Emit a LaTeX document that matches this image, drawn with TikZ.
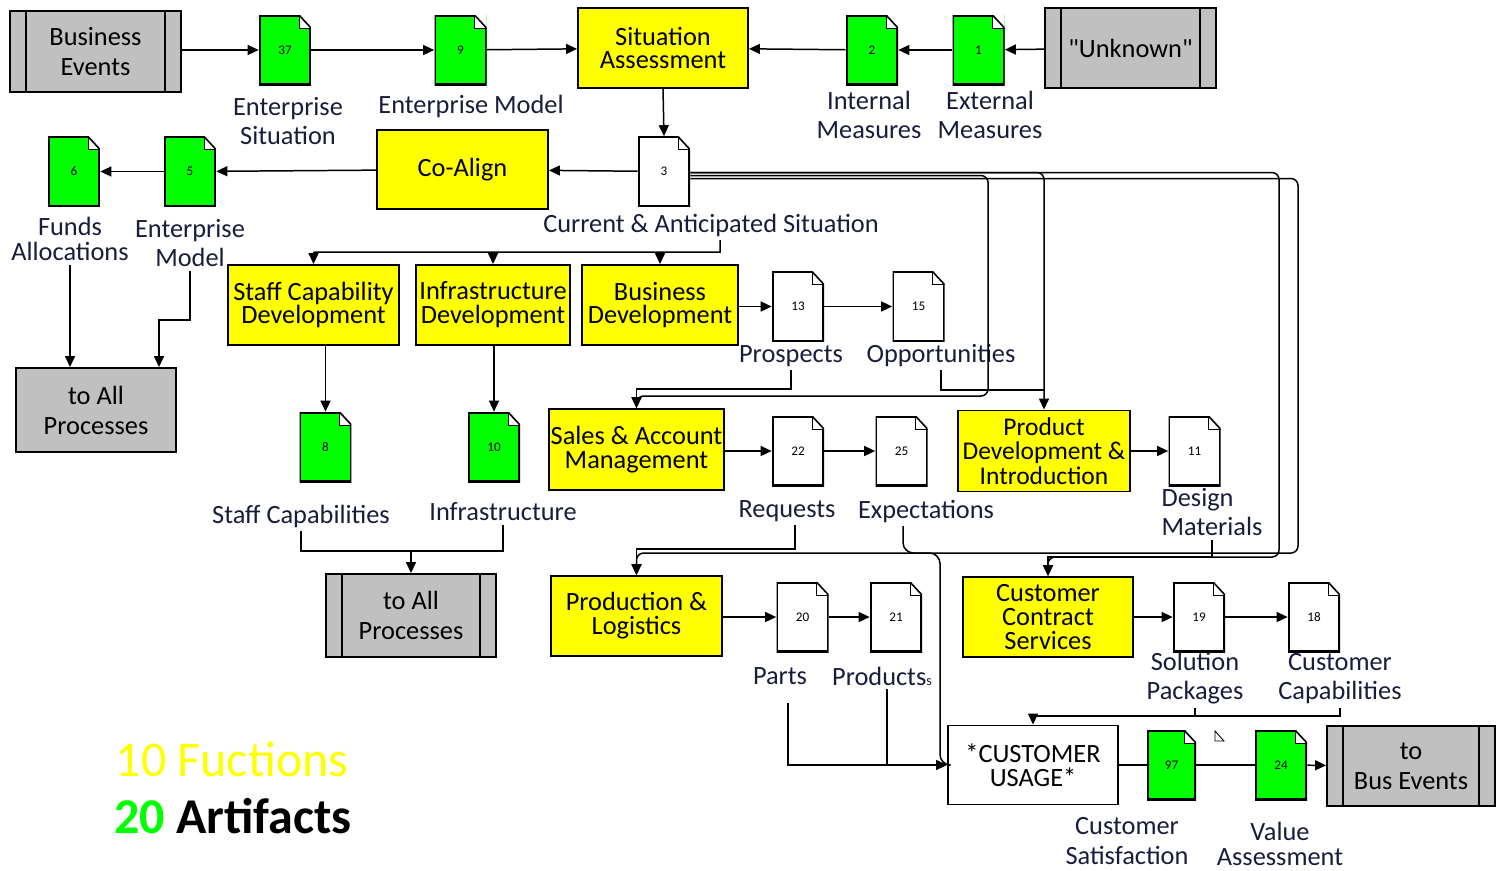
\documentclass[tikz,border=0pt]{standalone}
\usepackage{fontspec}
\setmainfont{Carlito}
\usetikzlibrary{arrows.meta}
\definecolor{fyellow}{RGB}{255,255,0}
\definecolor{dgreen}{RGB}{0,255,0}
\definecolor{pgray}{RGB}{192,192,192}
\definecolor{lblcol}{RGB}{25,28,60}
\newcommand{\fnbox}{\fontsize{15}{13.6}\selectfont}
\newcommand{\fngray}{\fontsize{15}{17}\selectfont}
\newcommand{\fnlbl}{\fontsize{15}{16.5}\selectfont}
\newcommand{\fndoc}{\fontsize{7.5}{8}\selectfont}
\newcommand{\fntot}{\fontsize{28.5}{30}\selectfont}
\newcommand{\ppb}{path picture bounding box}
\tikzset{
  func/.style={draw=black, line width=1.1pt, fill=fyellow, align=center, font=\fnbox,
    inner sep=1pt, minimum width=3.42cm, minimum height=1.6cm},
  greybox/.style={func, fill=pgray, font=\fngray},
  procbox/.style={greybox, path picture={
      \draw[line width=0.7pt] ([xshift=0.32cm]\ppb.north west) -- ([xshift=0.32cm]\ppb.south west)
        ([xshift=-0.32cm]\ppb.north east) -- ([xshift=-0.32cm]\ppb.south east);}},
  doc/.style={fill=#1, minimum width=1.04cm, minimum height=1.4cm, inner sep=0pt, font=\fndoc,
    path picture={
      \fill[white] ([xshift=-0.24cm]\ppb.north east) rectangle ([yshift=-0.26cm]\ppb.north east);
      \draw[line width=1.8pt] ([xshift=-0.24cm]\ppb.north east) -- (\ppb.north west)
        -- (\ppb.south west) -- (\ppb.south east) -- ([yshift=-0.26cm]\ppb.north east);
      \draw[line width=0.9pt] ([xshift=-0.24cm]\ppb.north east) -- ([yshift=-0.26cm]\ppb.north east);
      \draw[line width=0.5pt] ([xshift=-0.24cm]\ppb.north east) |- ([yshift=-0.26cm]\ppb.north east);}},
  lbl/.style={font=\fnlbl, text=lblcol, align=center, inner sep=2pt},
  wire/.style={line width=0.85pt},
  arr/.style={wire, -{Triangle[length=2.2mm,width=2mm]}},
}
\begin{document}
\begin{tikzpicture}[x=0.02cm, y=-0.02cm]
\useasboundingbox (0,0) rectangle (1497,870);
% top row
\node[procbox, minimum height=1.62cm] (busev) at (95.5,51.5) {Business\\Events};
\node[doc=dgreen] (d37) at (285,50) {37};
\node[doc=dgreen] (d9) at (460.5,50) {9};
\node[func, minimum width=3.4cm] (sitass) at (663,48) {Situation\\Assessment};
\node[doc=dgreen] (d2) at (872,50) {2};
\node[doc=dgreen] (d1) at (978.5,50) {1};
\node[procbox] (unknown) at (1130.5,48) {\textquotedbl Unknown\textquotedbl};
\node[lbl] (l37) at (288,121) {Enterprise\\Situation};
\node[lbl] (l9) at (471,106) {Enterprise Model};
\node[lbl] (l2) at (869,115) {Internal\\Measures};
\node[lbl] (l1) at (990,115) {External\\Measures};
% second row
\node[doc=white] (d3) at (664,171.5) {3};
\node[func, minimum height=1.58cm] (coalign) at (462.5,169.5) {Co-Align};
\node[doc=dgreen] (d5) at (190,171.5) {5};
\node[doc=dgreen] (d6) at (74,171.5) {6};
\node[lbl] (l3) at (711,225) {Current \& Anticipated Situation};
\node[lbl] (l5) at (190,243) {Enterprise\\Model};
\node[lbl, font=\fontsize{15}{14.5}\selectfont] (l6) at (70,239) {Funds\\Allocations};
\node[greybox, minimum width=3.2cm, minimum height=1.68cm] (allproc1) at (96,410) {to All\\Processes};
% third row
\node[func] (staffdev) at (313.5,305) {Staff Capability\\Development};
\node[func, minimum width=3.08cm] (infradev) at (493,305) {Infrastructure\\Development};
\node[func, minimum width=3.12cm] (busdev) at (660,305) {Business\\Development};
\node[doc=white] (d13) at (798,306.5) {13};
\node[doc=white] (d15) at (918.5,306.5) {15};
\node[lbl] (l13) at (791,356) {Prospects};
\node[lbl] (l15) at (941,355) {Opportunities};
\node[doc=dgreen] (d8) at (325.5,447) {8};
\node[doc=dgreen] (d10) at (494,447) {10};
\node[lbl] (l8) at (301,516) {Staff Capabilities};
\node[lbl] (l10) at (503,512) {Infrastructure};
\node[procbox, minimum width=3.4cm, minimum height=1.66cm] (allproc2) at (411,615.5) {to All\\Processes};
% fourth row
\node[func, minimum height=1.62cm] (sales) at (636.5,449.5) {Sales \& Account\\Management};
\node[doc=white] (d22) at (798,451) {22};
\node[doc=white] (d25) at (901.5,451) {25};
\node[lbl] (l22) at (787,511) {Requests};
\node[lbl] (l25) at (926,511) {Expectations};
\node[func, minimum width=3.44cm, minimum height=1.62cm, font=\fontsize{14.5}{14}\selectfont] (proddev) at (1044,451) {Product\\Development \&\\Introduction};
\node[doc=white] (d11) at (1194.5,451) {11};
\node[lbl, align=left] (l11) at (1212,512) {Design\\Materials};
% fifth row
\node[func] (prodlog) at (636.5,616) {Production \&\\Logistics};
\node[doc=white] (d20) at (802.5,617) {20};
\node[doc=white] (d21) at (896,617) {21};
\node[lbl] (l20) at (780,676) {Parts};
\node[lbl] (l21) at (882,676) {Products{\fontsize{8}{8}\selectfont s}};
\node[func, minimum width=3.4cm] (ccs) at (1048,617) {Customer\\Contract\\Services};
\node[doc=white] (d19) at (1199,617) {19};
\node[doc=white] (d18) at (1314,617) {18};
\node[lbl] (l19) at (1195,678) {Solution\\Packages};
\node[lbl] (l18) at (1340,679) {Customer\\Capabilities};
% usage row
\node[func, fill=white, minimum width=3.4cm, minimum height=1.58cm] (usage) at (1033,765) {*CUSTOMER\\USAGE*};
\node[doc=dgreen, minimum width=0.98cm] (d97) at (1171.5,765) {97};
\node[doc=dgreen] (d24) at (1281,765) {24};
\node[lbl, font=\fontsize{15}{17.5}\selectfont] (l97) at (1127,841) {Customer\\Satisfaction};
\node[lbl, font=\fontsize{15}{13.8}\selectfont] (l24) at (1280,844) {Value\\Assessment};
\node[procbox, minimum width=3.36cm] (busev2) at (1411,766) {to\\Bus Events};
\draw[line width=0.5pt] (1215,731) -- (1215,741) -- (1224,741) -- cycle;
% totals
\node[font=\fntot, text=fyellow, inner sep=0pt] (nfunc) at (232,759) {10 Fuctions};
\node[font=\fntot\bfseries, inner sep=0pt] (nart) at (233,816) {\textcolor{dgreen}{20} Artifacts};
% connectors, top
\draw[arr] (busev.east |- d37) -- (d37.west);
\draw[arr] (d37) -- (d9);
\draw[arr] (d9) -- (sitass);
\draw[arr] (unknown) -- (d1);
\draw[arr] (d1) -- (d2);
\draw[arr] (d2) -- (sitass);
\draw[arr] (sitass.south) -- (d3.north);
\draw[arr] (d3) -- (coalign);
\draw[arr] (coalign) -- (d5);
\draw[arr] (d5) -- (d6);
\draw[arr] (l6.south) -- (l6.south |- allproc1.north);
\coordinate (j0) at (159,320);
\draw[arr] (l5.south) |- (j0) -- (j0 |- allproc1.north);
% fan out of 3
\coordinate (fan) at (720,252);
\draw[wire] ([xshift=0.18cm]l3.south) -- (fan) -- (fan -| staffdev.north);
\draw[arr] (fan -| staffdev.north) -- (staffdev.north);
\draw[arr] (fan -| infradev.north) -- (infradev.north);
\draw[arr] (fan -| busdev.north) -- (busdev.north);
\draw[arr, rounded corners=4pt] ([yshift=-0.02cm]d3.east) -| (proddev.north);
\draw[arr, rounded corners=4pt] ([yshift=-0.02cm]d3.east) -| (1279,557) -| (ccs.north);
\draw[arr, rounded corners=4pt] ([yshift=-0.08cm]d3.east) -| (988,396) -| (sales.north);
\draw[arr, rounded corners=4pt] ([yshift=-0.14cm]d3.east) -| (1298,553) -| (prodlog.north);
% third row
\draw[arr] (staffdev.south -| d8.north) -- (d8.north);
\draw[arr] (infradev.south -| d10.north) -- (d10.north);
\coordinate (j1) at (411,551);
\draw[wire] (l8.south) |- (j1);
\draw[wire] (l10.south) |- (j1);
\draw[arr] (j1) -- (allproc2.north);
\draw[arr] (busdev.east |- d13) -- (d13.west);
\draw[arr] (d13) -- (d15);
\coordinate (j3) at (636.5,389);
\draw[arr] (l13.south) |- (j3) -- (sales.north);
\coordinate (j4) at (1044,390);
\draw[wire] (l15.south) |- (j4);
% fourth row
\draw[arr] (sales.east |- d22) -- (d22.west);
\draw[arr] (d22) -- (d25);
\draw[arr] (proddev.east |- d11) -- (d11.west);
\coordinate (j5) at (636.5,549);
\draw[arr] ([xshift=0.16cm]l22.south) |- (j5) -- (prodlog.north);
\coordinate (j6) at (1048,557);
\draw[arr] (l11.south) |- (j6) -- (ccs.north);
\draw[wire, rounded corners=6pt] ([xshift=-0.46cm]l25.south) |- (940,553) |- (usage.west);
% fifth row
\draw[arr] (prodlog.east |- d20) -- (d20.west);
\draw[arr] (d20) -- (d21);
\draw[arr] (ccs.east |- d19) -- (d19.west);
\draw[arr] (d19) -- (d18);
\coordinate (j7) at (1033,716);
\draw[wire] (l18.south) |- (j7);
\draw[arr] (l19.south) |- (j7) -- (usage.north);
\draw[arr, shorten <=0.3cm] ([xshift=0.16cm]l20.south) |- (usage.west);
\draw[wire] ([xshift=0.1cm]l21.south) -- ([xshift=0.1cm]l21.south |- usage.west);
% usage row
\draw[wire] (usage) -- (d97);
\draw[wire] (d97) -- (d24);
\draw[arr] (d24) -- (busev2);
\end{tikzpicture}
\end{document}
